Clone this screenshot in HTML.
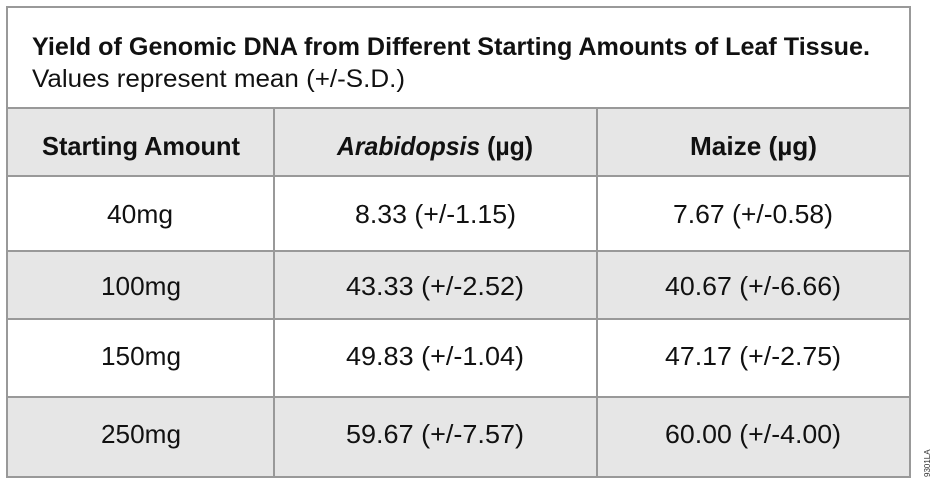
<!DOCTYPE html>
<html><head><style>body{margin:0;background:#fff}svg{display:block}</style></head><body>
<svg width="938" height="484" xmlns="http://www.w3.org/2000/svg" font-family="Liberation Sans, sans-serif" fill="#111">
<rect x="0" y="0" width="938" height="484" fill="#fff"/>
<rect x="7" y="108" width="903" height="68" fill="#e6e6e6"/>
<rect x="7" y="251" width="903" height="68" fill="#e6e6e6"/>
<rect x="7" y="397" width="903" height="80" fill="#e6e6e6"/>
<g stroke="#999" stroke-width="2" fill="none">
<rect x="7" y="7" width="903" height="470"/>
<line x1="7" y1="108" x2="910" y2="108"/>
<line x1="7" y1="176" x2="910" y2="176"/>
<line x1="7" y1="251" x2="910" y2="251"/>
<line x1="7" y1="319" x2="910" y2="319"/>
<line x1="7" y1="397" x2="910" y2="397"/>
<line x1="274" y1="108" x2="274" y2="477"/>
<line x1="597" y1="108" x2="597" y2="477"/>
</g>
<text x="32" y="55" font-size="25" font-weight="bold" textLength="838" lengthAdjust="spacingAndGlyphs">Yield of Genomic DNA from Different Starting Amounts of Leaf Tissue.</text>
<text x="32" y="87" font-size="25" textLength="373" lengthAdjust="spacingAndGlyphs">Values represent mean (+/-S.D.)</text>
<g font-size="26" font-weight="bold">
<text x="42" y="155" textLength="198" lengthAdjust="spacingAndGlyphs">Starting Amount</text>
<text x="337" y="155" textLength="196" lengthAdjust="spacingAndGlyphs"><tspan font-style="italic">Arabidopsis</tspan> (µg)</text>
<text x="690" y="155" textLength="127" lengthAdjust="spacingAndGlyphs">Maize (µg)</text>
</g>
<g font-size="26">
<text x="107" y="223" textLength="66" lengthAdjust="spacingAndGlyphs">40mg</text>
<text x="355" y="223" textLength="161" lengthAdjust="spacingAndGlyphs">8.33 (+/-1.15)</text>
<text x="673" y="223" textLength="160" lengthAdjust="spacingAndGlyphs">7.67 (+/-0.58)</text>
<text x="101" y="295" textLength="80" lengthAdjust="spacingAndGlyphs">100mg</text>
<text x="346" y="295" textLength="178" lengthAdjust="spacingAndGlyphs">43.33 (+/-2.52)</text>
<text x="665" y="295" textLength="176" lengthAdjust="spacingAndGlyphs">40.67 (+/-6.66)</text>
<text x="101" y="365" textLength="80" lengthAdjust="spacingAndGlyphs">150mg</text>
<text x="346" y="365" textLength="178" lengthAdjust="spacingAndGlyphs">49.83 (+/-1.04)</text>
<text x="665" y="365" textLength="176" lengthAdjust="spacingAndGlyphs">47.17 (+/-2.75)</text>
<text x="101" y="443" textLength="80" lengthAdjust="spacingAndGlyphs">250mg</text>
<text x="346" y="443" textLength="178" lengthAdjust="spacingAndGlyphs">59.67 (+/-7.57)</text>
<text x="665" y="443" textLength="176" lengthAdjust="spacingAndGlyphs">60.00 (+/-4.00)</text>
</g>
<text x="0" y="0" font-size="8" transform="translate(930,477) rotate(-90)" fill="#333">9301LA</text>
</svg>
</body></html>
